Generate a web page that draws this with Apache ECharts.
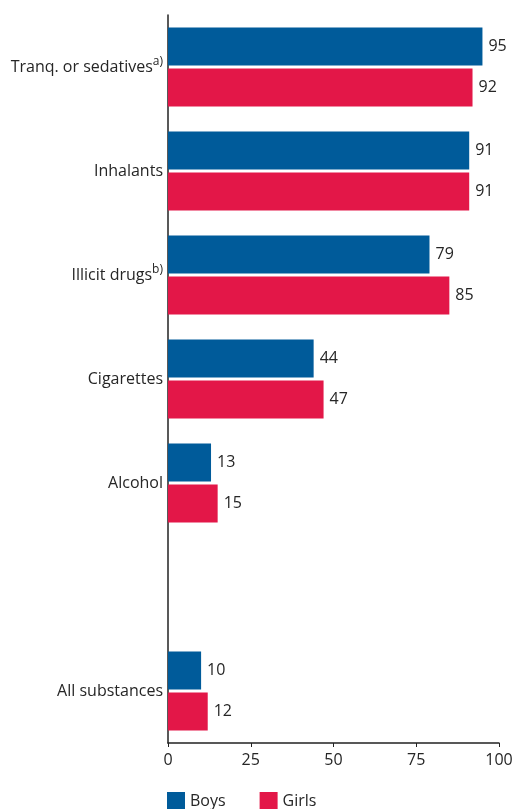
<!DOCTYPE html>
<html><head><meta charset="utf-8">
<script src="https://cdn.jsdelivr.net/npm/echarts@6/dist/echarts.min.js"></script>
<style>html,body{margin:0;padding:0;background:#fff}#c{width:516px;height:809px}</style>
</head><body><div id="c"></div>
<script>
const categories = ['Tranq. or sedatives{sup|a)}', 'Inhalants', 'Illicit drugs{sup|b)}', 'Cigarettes', 'Alcohol', '', 'All substances'];
const boys = [95, 91, 79, 44, 13, null, 10];
const girls = [92, 91, 85, 47, 15, null, 12];
const xTicks = [0, 25, 50, 75, 100];
const seriesNames = ['Boys', 'Girls'];

const font = '"Open Sans", sans-serif';
const txt = '#262626';
const chart = echarts.init(document.getElementById('c'));
chart.setOption({
  animation: false,
  textStyle: { fontFamily: font },
  grid: { left: 168, right: 17, top: 15, bottom: 66, containLabel: false },
  legend: {
    data: seriesNames, left: 167, top: 792, padding: 0, itemWidth: 18, itemHeight: 18, itemGap: 34,
    icon: 'rect', textStyle: { fontSize: 16, color: txt, fontFamily: font }
  },
  xAxis: {
    type: 'value', min: xTicks[0], max: xTicks[xTicks.length - 1], interval: 25,
    splitLine: { show: false },
    axisLine: { show: true, lineStyle: { color: '#222', width: 1.5 } },
    axisTick: { show: true, length: 4, lineStyle: { color: '#222' } },
    axisLabel: { fontSize: 16, color: txt, margin: 9, fontFamily: font }
  },
  yAxis: {
    type: 'category', data: categories, inverse: true,
    axisLine: { show: true, lineStyle: { color: '#222', width: 1.5 } },
    axisTick: { show: false },
    axisLabel: {
      fontSize: 16, color: txt, margin: 5, fontFamily: font,
      rich: { sup: { fontSize: 12, verticalAlign: 'top', padding: [0, 0, 10, 0], color: txt, fontFamily: font } }
    }
  },
  series: [
    { name: seriesNames[0], type: 'bar', data: boys, barWidth: 38, barGap: '8%',
      itemStyle: { color: '#005b9a' },
      label: { show: true, position: 'right', distance: 6, fontSize: 16, color: txt, fontFamily: font } },
    { name: seriesNames[1], type: 'bar', data: girls, barWidth: 38,
      itemStyle: { color: '#e31748' },
      label: { show: true, position: 'right', distance: 6, fontSize: 16, color: txt, fontFamily: font } }
  ]
});
</script></body></html>
